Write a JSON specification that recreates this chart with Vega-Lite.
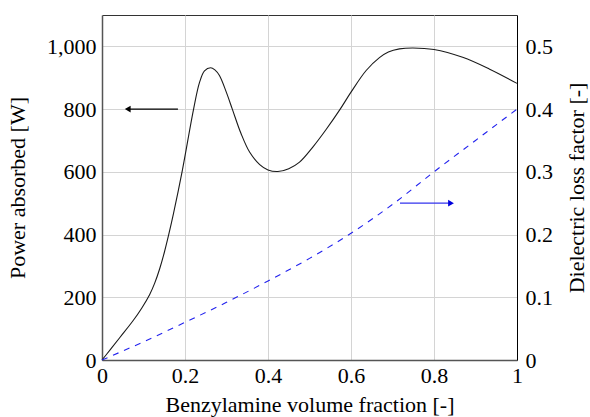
{
  "$schema": "https://vega.github.io/schema/vega-lite/v6.json",
  "width": 415,
  "height": 345,
  "autosize": {"type": "none"},
  "padding": {"left": 102, "top": 15, "right": 73, "bottom": 57},
  "config": {
    "view": {"stroke": "#333", "strokeWidth": 1},
    "font": "Liberation Serif",
    "axis": {
      "labelFont": "Liberation Serif",
      "titleFont": "Liberation Serif",
      "labelFontSize": 22,
      "titleFontSize": 22,
      "titleFontWeight": "normal",
      "labelColor": "black",
      "titleColor": "black",
      "gridColor": "#d4d4d4",
      "gridWidth": 1,
      "ticks": false,
      "domainColor": "#555",
      "domainWidth": 1.5
    }
  },
  "datasets": {
    "power": [
      {"x": 0, "p": 0},
      {"x": 0.02, "p": 33},
      {"x": 0.0426, "p": 71},
      {"x": 0.0747, "p": 125},
      {"x": 0.096, "p": 166},
      {"x": 0.115, "p": 209},
      {"x": 0.127, "p": 245},
      {"x": 0.139, "p": 291},
      {"x": 0.15, "p": 342},
      {"x": 0.161, "p": 401},
      {"x": 0.1726, "p": 469},
      {"x": 0.1935, "p": 604},
      {"x": 0.2207, "p": 800},
      {"x": 0.235, "p": 885},
      {"x": 0.247, "p": 922},
      {"x": 0.2617, "p": 932},
      {"x": 0.272, "p": 925},
      {"x": 0.283, "p": 907},
      {"x": 0.2995, "p": 854},
      {"x": 0.314, "p": 800},
      {"x": 0.335, "p": 722},
      {"x": 0.3556, "p": 663},
      {"x": 0.38, "p": 623},
      {"x": 0.4, "p": 606},
      {"x": 0.4237, "p": 601},
      {"x": 0.45, "p": 610},
      {"x": 0.476, "p": 631},
      {"x": 0.508, "p": 679},
      {"x": 0.54, "p": 735},
      {"x": 0.574, "p": 800},
      {"x": 0.6, "p": 854},
      {"x": 0.6365, "p": 923},
      {"x": 0.6685, "p": 964},
      {"x": 0.69, "p": 982},
      {"x": 0.7167, "p": 992},
      {"x": 0.749, "p": 995},
      {"x": 0.8, "p": 990},
      {"x": 0.869, "p": 965},
      {"x": 0.933, "p": 928},
      {"x": 1.0, "p": 882}
    ],
    "loss": [
      {"x": 0, "d": 0},
      {"x": 0.1, "d": 0.029},
      {"x": 0.2, "d": 0.06},
      {"x": 0.3, "d": 0.092},
      {"x": 0.4, "d": 0.126},
      {"x": 0.5, "d": 0.162},
      {"x": 0.6, "d": 0.202},
      {"x": 0.7, "d": 0.248},
      {"x": 0.8, "d": 0.3},
      {"x": 0.9, "d": 0.35},
      {"x": 1.0, "d": 0.4}
    ],
    "arrowL": [{"x": 0.06, "x2": 0.183, "p": 800}],
    "arrowLHead": [{"x": 0.062, "p": 800}],
    "arrowR": [{"x": 0.718, "x2": 0.84, "d": 0.25}],
    "arrowRHead": [{"x": 0.841, "d": 0.25}]
  },
  "resolve": {"scale": {"y": "independent"}},
  "layer": [
    {
      "layer": [
        {
          "data": {"name": "power"},
          "mark": {"type": "line", "color": "#1a1a1a", "strokeWidth": 1.1, "interpolate": "catmull-rom"},
          "encoding": {
            "x": {"field": "x", "type": "quantitative", "scale": {"domain": [0, 1], "nice": false},
              "axis": {"title": "Benzylamine volume fraction [-]", "values": [0, 0.2, 0.4, 0.6, 0.8, 1], "labelExpr": "format(datum.value, '~g')", "labelPadding": 5, "titlePadding": 8, "grid": true, "labelFlush": false}},
            "y": {"field": "p", "type": "quantitative", "scale": {"domain": [0, 1100], "nice": false},
              "axis": {"title": "Power absorbed [W]", "values": [0, 200, 400, 600, 800, 1000], "labelExpr": "format(datum.value, ',')", "labelPadding": 6, "titlePadding": 17, "grid": true, "orient": "left"}}
          }
        },
        {
          "data": {"name": "arrowL"},
          "mark": {"type": "rule", "color": "black", "strokeWidth": 1.1},
          "encoding": {
            "x": {"field": "x", "type": "quantitative"},
            "x2": {"field": "x2"},
            "y": {"field": "p", "type": "quantitative"}
          }
        },
        {
          "data": {"name": "arrowLHead"},
          "mark": {"type": "point", "shape": "triangle-left", "filled": true, "color": "black", "size": 45, "opacity": 1},
          "encoding": {
            "x": {"field": "x", "type": "quantitative"},
            "y": {"field": "p", "type": "quantitative"}
          }
        }
      ]
    },
    {
      "layer": [
        {
          "data": {"name": "loss"},
          "mark": {"type": "line", "color": "#2222ee", "strokeWidth": 1.1, "strokeDash": [6, 6], "interpolate": "monotone"},
          "encoding": {
            "x": {"field": "x", "type": "quantitative"},
            "y": {"field": "d", "type": "quantitative", "scale": {"domain": [0, 0.55], "nice": false},
              "axis": {"title": "Dielectric loss factor [-]", "orient": "right", "values": [0, 0.1, 0.2, 0.3, 0.4, 0.5], "labelExpr": "format(datum.value, '~g')", "labelPadding": 8, "titlePadding": 36, "grid": false, "titleAngle": 270, "domainColor": "black", "domainWidth": 1}}
          }
        },
        {
          "data": {"name": "arrowR"},
          "mark": {"type": "rule", "color": "#3333ee", "strokeWidth": 1.2},
          "encoding": {
            "x": {"field": "x", "type": "quantitative"},
            "x2": {"field": "x2"},
            "y": {"field": "d", "type": "quantitative"}
          }
        },
        {
          "data": {"name": "arrowRHead"},
          "mark": {"type": "point", "shape": "triangle-right", "filled": true, "color": "#0000dd", "size": 45, "opacity": 1},
          "encoding": {
            "x": {"field": "x", "type": "quantitative"},
            "y": {"field": "d", "type": "quantitative"}
          }
        }
      ]
    }
  ]
}
